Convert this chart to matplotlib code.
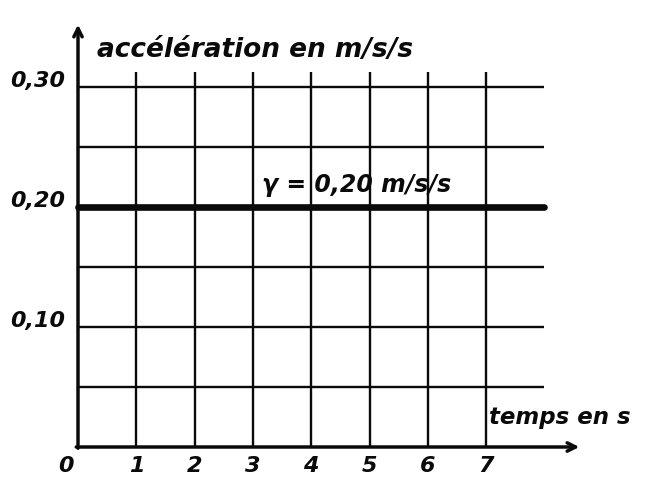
import matplotlib.pyplot as plt

# data
x_ticks = [0, 1, 2, 3, 4, 5, 6, 7]
x_tick_labels = ["0", "1", "2", "3", "4", "5", "6", "7"]
y_ticks = [0.10, 0.20, 0.30]
y_tick_labels = ["0,10", "0,20", "0,30"]
h_grid = [0.05, 0.10, 0.15, 0.25, 0.30]
v_grid = [1, 2, 3, 4, 5, 6, 7]
t_values = [0, 8]
accel_values = [0.20, 0.20]

# pixel mapping of the original: x=0 at px 78, 58.3 px/s ; y=0 at px 447, 1200 px per m/s/s
W, H = 663, 501
X0, SX = 78, 58.3
Y0, SY = 447, 1200

fig = plt.figure(figsize=(W / 100, H / 100), dpi=100)
ax = fig.add_axes([0, 0, 1, 1])
ax.set_xlim(-X0 / SX, (W - X0) / SX)
ax.set_ylim(-(H - Y0) / SY, Y0 / SY)
ax.axis("off")

ink = "#0a0a0a"
font = dict(family="DejaVu Sans", color=ink, style="italic", fontweight="bold")

# grid
for y in h_grid:
    ax.plot([0, 8], [y, y], color=ink, lw=1.7, solid_capstyle="butt")
for x in v_grid:
    ax.plot([x, x], [0, 0.3125], color=ink, lw=1.7, solid_capstyle="butt")

# the constant acceleration line
ax.plot(t_values, accel_values, color=ink, lw=4.8, solid_capstyle="round", zorder=4)

# axes with arrows
arrow = dict(arrowstyle="->,head_length=0.6,head_width=0.3",
             color=ink, lw=2.5, shrinkA=0, shrinkB=0)
ax.annotate("", xy=(0, 0.352), xytext=(0, -0.001), arrowprops=arrow)
ax.annotate("", xy=(8.6, 0), xytext=(-0.03, 0), arrowprops=arrow)

# tick labels
for x, lab in zip(x_ticks, x_tick_labels):
    xp = x - 0.2 if x == 0 else x
    ax.text(xp, -0.0155, lab, ha="center", va="center", fontsize=16, **font)
for y, lab in zip(y_ticks, y_tick_labels):
    ax.text(-0.22, y + 0.005, lab, ha="right", va="center", fontsize=16, **font)

# axis titles
ax.text(0.33, 0.331, "accélération en m/s/s", ha="left", va="center",
        fontsize=19, **font)
ax.text(7.05, 0.0245, "temps en s", ha="left", va="center",
        fontsize=16.5, **font)
ax.text(3.15, 0.218, "γ = 0,20 m/s/s", ha="left", va="center",
        fontsize=17, **font)

fig.savefig("out.png", dpi=100, facecolor="white")
